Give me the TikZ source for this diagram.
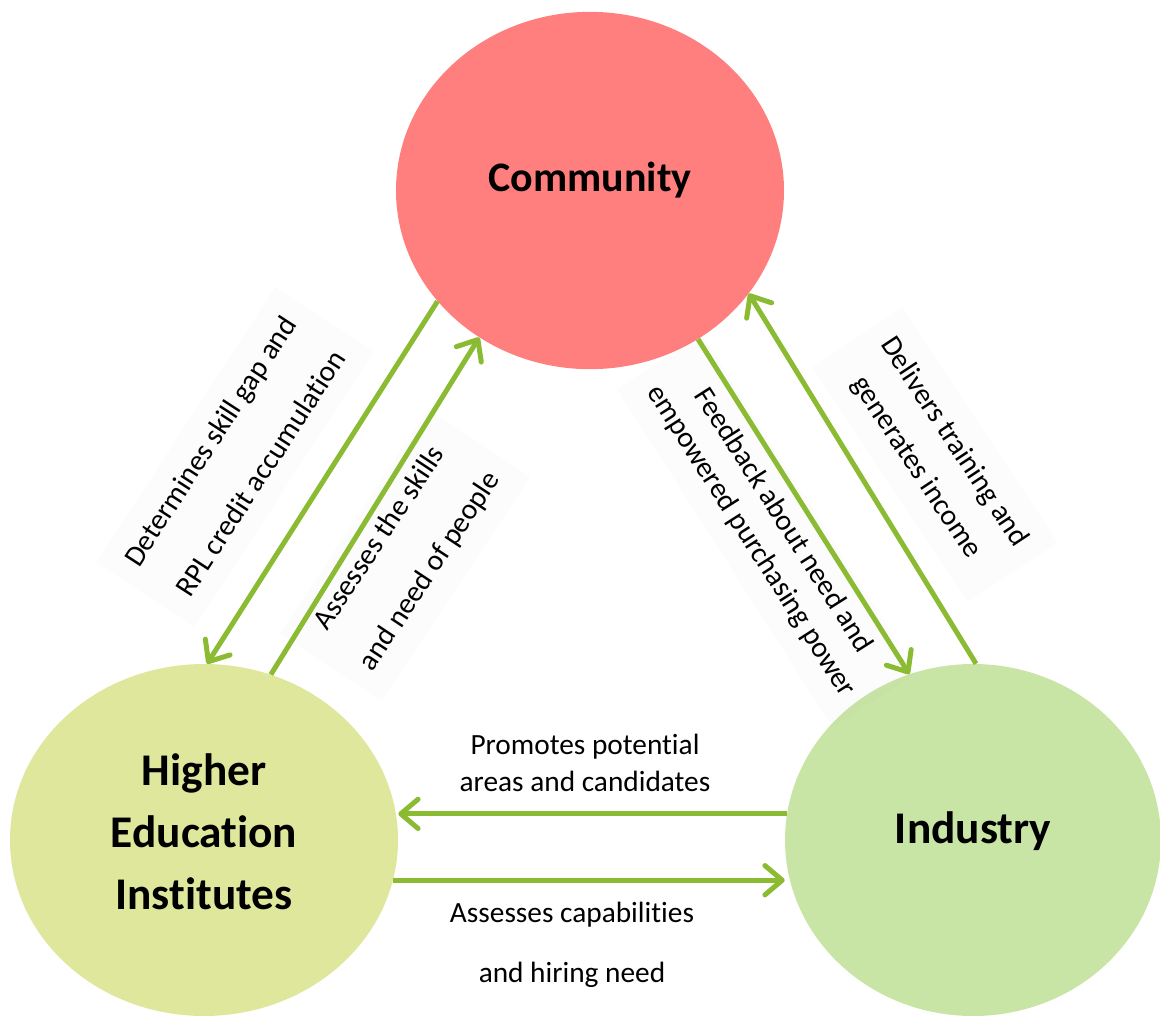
\documentclass[tikz,border=0pt]{standalone}
\usepackage{fontspec}
\setmainfont{Carlito}[Ligatures=NoCommon]
\usetikzlibrary{shapes.geometric,arrows.meta}

\definecolor{commred}{HTML}{FF7F7F}
\definecolor{heigreen}{HTML}{DFE79C}
\definecolor{indgreen}{HTML}{C9E5A6}
\definecolor{arrowgreen}{HTML}{8BBA33}

\tikzset{
    party/.style={ellipse, minimum width=291pt, minimum height=264pt, inner sep=0pt,
        align=center, font=\bfseries\fontsize{34}{46.5}\selectfont},
    link/.style={draw=arrowgreen, line width=3.75pt,
        -{Straight Barb[length=13pt,width=22pt,round]}},
    note/.style={align=center, fill=black, fill opacity=0.012, text opacity=1, inner sep=14pt},
}

\begin{document}
\begin{tikzpicture}[x=0.75pt, y=-0.75pt]
    \useasboundingbox (0,0) rectangle (1160,1018);
    \clip (0,0) rectangle (1160,1018);

    \node[party, fill=commred, minimum height=268pt, text depth=20pt,
        font=\bfseries\fontsize{31.5}{40}\selectfont] (com) at (590,190.5) {Community};
    \node[party, fill=heigreen, text depth=12pt] (hei) at (204,840) {Higher\\Education\\Institutes};
    \node[party, fill=indgreen, minimum width=282pt, text depth=19pt] (ind) at (973,840) {Industry};

    \node[note, rotate=57, font=\fontsize{22}{45}\selectfont] (gaplbl) at (235,457) {Determines skill gap and\\RPL credit accumulation};
    \node[note, rotate=56.5, font=\fontsize{22}{45}\selectfont] (skilllbl) at (405,555) {Assesses the skills\\and need of people};
    \node[note, rotate=-57.5, font=\fontsize{22}{28.5}\selectfont] (feedlbl) at (767,531) {Feedback about need and\\empowered purchasing power};
    \node[note, rotate=-56.5, font=\fontsize{22}{34}\selectfont] (incomelbl) at (935,455) {Delivers training and\\generates income};
    \node[align=center, font=\fontsize{22}{28}\selectfont] (promlbl) at (585,763) {Promotes potential\\areas and candidates};
    \node[align=center, font=\fontsize{22}{45}\selectfont] (caplbl) at (572,945) {Assesses capabilities\\and hiring need};

    \draw[link] (com.216) -- (hei.89);
    \draw[link] (hei.68) -- (com.233);
    \draw[link] (com.306) -- (ind.111);
    \draw[link] (ind.89) -- (com.-33);
    \draw[link] (ind.172) -- (ind.172 -| hei.east);
    \draw[link] (hei.-12) -- (hei.-12 -| ind.west);
\end{tikzpicture}
\end{document}
